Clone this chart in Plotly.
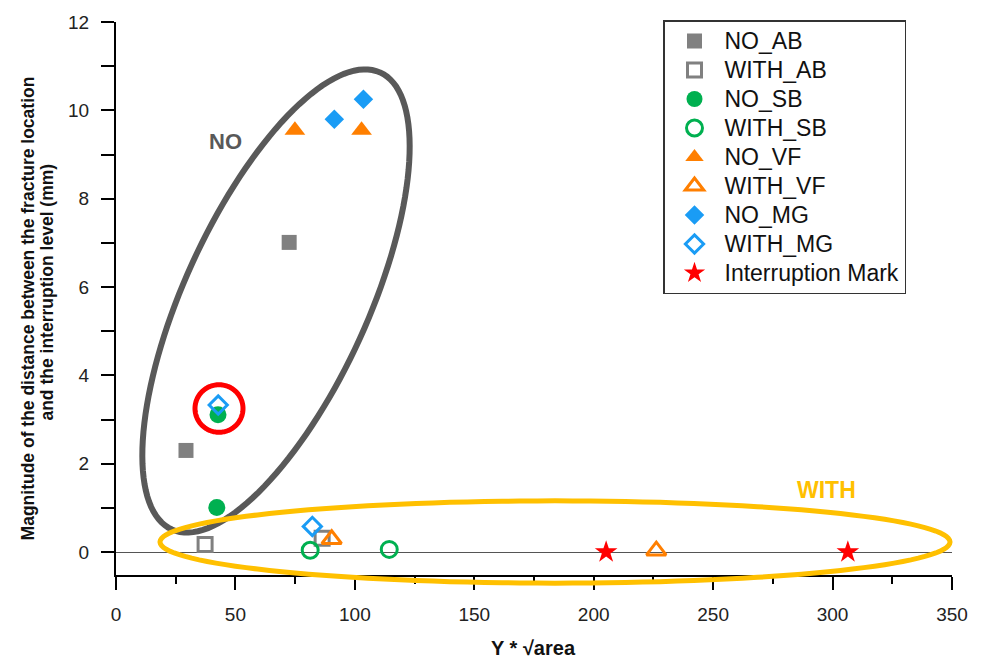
import numpy as np
import plotly.graph_objects as go

# ---------------- data ----------------
series_names = ["NO_AB", "WITH_AB", "NO_SB", "WITH_SB", "NO_VF", "WITH_VF",
                "NO_MG", "WITH_MG", "Interruption Mark"]

no_ab_x = [29.3, 72.5]
no_ab_y = [2.30, 7.01]
with_ab_x = [37.3, 86.3]
with_ab_y = [0.17, 0.31]
no_sb_x = [42.7, 42.2]
no_sb_y = [3.11, 1.01]
with_sb_x = [81.3, 114.4]
with_sb_y = [0.04, 0.06]
no_vf_x = [74.9, 102.8]
no_vf_y = [9.55, 9.55]
with_vf_x = [90.3, 226.2]
with_vf_y = [0.29, 0.03]
no_mg_x = [91.4, 103.6]
no_mg_y = [9.80, 10.25]
with_mg_x = [42.8, 82.2]
with_mg_y = [3.33, 0.58]
mark_x = [205.2, 306.4]
mark_y = [0.0, 0.0]

x_ticks = [0, 50, 100, 150, 200, 250, 300, 350]
y_ticks = [0, 2, 4, 6, 8, 10, 12]

y_title_lines = ["Magnitude of the distance between the fracture location",
                 "and the interruption level (mm)"]
x_title = "Y * \u221aarea"

# ---------------- styling ----------------
GRAY = "#808080"
GREEN = "#00b050"
ORANGE = "#ff7f00"
BLUE = "#1a9cf5"
RED = "#ff0000"
FONT = "Arial, Liberation Sans, sans-serif"

W, H = 981, 661
L, R, T, B = 116, 29, 17, 86
PW, PH = W - L - R, H - T - B

fig = go.Figure()

def legend_label(n):
    return f"<span style='font-size:23px'>{n}</span>"

def add(name, xs, ys, symbol, color, size, lw=0):
    fig.add_trace(go.Scatter(
        x=xs, y=ys, mode="markers", name=legend_label(name),
        marker=dict(symbol=symbol, color=color, size=size,
                    line=dict(width=lw, color=color)),
        cliponaxis=False))

add(series_names[0], no_ab_x, no_ab_y, "square", GRAY, 15)
add(series_names[1], with_ab_x, with_ab_y, "square-open", GRAY, 14, 3)
add(series_names[2], no_sb_x, no_sb_y, "circle", GREEN, 17)
add(series_names[3], with_sb_x, with_sb_y, "circle-open", GREEN, 16, 3)
add(series_names[4], no_vf_x, no_vf_y, "triangle-up", ORANGE, 18)
add(series_names[5], with_vf_x, with_vf_y, "triangle-up-open", ORANGE, 17, 3)
add(series_names[6], no_mg_x, no_mg_y, "diamond", BLUE, 15)
add(series_names[7], with_mg_x, with_mg_y, "diamond-open", BLUE, 14, 3)
add(series_names[8], mark_x, mark_y, "star", RED, 17)

# ---------------- highlight shapes (pixel-defined, paper coords) ----------------
def px2paper(px, py):
    return (px - L) / PW, (H - B - py) / PH

def ellipse_path(cx, cy, a, b, theta_deg, n=140):
    th = np.radians(theta_deg)
    t = np.linspace(0, 2 * np.pi, n, endpoint=False)
    px = cx + a * np.cos(t) * np.cos(th) - b * np.sin(t) * np.sin(th)
    py = cy - (a * np.cos(t) * np.sin(th) + b * np.sin(t) * np.cos(th))
    pts = [px2paper(u, v) for u, v in zip(px, py)]
    return "M " + " L ".join(f"{u:.5f},{v:.5f}" for u, v in pts) + " Z"

shapes = [
    dict(type="path", xref="paper", yref="paper", layer="between",
         path=ellipse_path(276, 298.5, 253, 92, 65.7),
         line=dict(color="#595959", width=6)),
    dict(type="path", xref="paper", yref="paper", layer="above",
         path=ellipse_path(555, 541.7, 395, 41.5, 0),
         line=dict(color="#ffc000", width=5)),
    dict(type="path", xref="paper", yref="paper", layer="above",
         path=ellipse_path(219, 407, 24, 24, 0),
         line=dict(color=RED, width=5)),
]

def txt(text, px, py, size, color, angle=0):
    x, y = px2paper(px, py)
    return dict(text=text, x=x, y=y, xref="paper", yref="paper", showarrow=False,
                xanchor="center", yanchor="middle", textangle=angle,
                font=dict(family=FONT, size=size, color=color))

annotations = [
    txt("<b>NO</b>", 225, 138, 22, "#595959"),
    txt("<b>WITH</b>", 826, 489, 23, "#ffc000"),
    txt(f"<b>{y_title_lines[0]}</b>", 28, 306, 17.5, "#111", -90),
    txt(f"<b>{y_title_lines[1]}</b>", 47, 290, 17.5, "#111", -90),
    txt(f"<b>{x_title}</b>", 533, 649, 20, "#111"),
]

axis_common = dict(
    showline=True, linecolor="black", linewidth=2, mirror=False,
    ticks="outside", ticklen=13, tickwidth=2, tickcolor="black",
    showgrid=False, tickfont=dict(family=FONT, size=19, color="#222"),
)

fig.update_layout(
    width=W, height=H,
    margin=dict(l=L, r=R, t=T, b=B),
    plot_bgcolor="white", paper_bgcolor="white",
    font=dict(family=FONT),
    shapes=shapes, annotations=annotations,
    showlegend=True,
    legend=dict(x=(663 - L) / PW, y=(H - B - 15) / PH, xanchor="left", yanchor="top",
                bgcolor="white", bordercolor="#333", borderwidth=1.5,
                font=dict(family=FONT, size=20, color="#111"),
                itemwidth=50, tracegroupgap=0),
    xaxis=dict(range=[0, 350], tickvals=x_ticks, zeroline=False,
               minor=dict(ticks="outside", ticklen=7, tickwidth=2, tickcolor="black", dtick=25, tick0=0),
               ticklabelstandoff=8,
               **axis_common),
    yaxis=dict(range=[-0.52, 12], tickvals=y_ticks, zeroline=True,
               zerolinecolor="#555", zerolinewidth=1,
               minor=dict(ticks="outside", ticklen=13, tickwidth=2, tickcolor="black", dtick=1, tick0=0),
               ticklabelstandoff=8,
               **axis_common),
)

fig.write_html("out.html")
